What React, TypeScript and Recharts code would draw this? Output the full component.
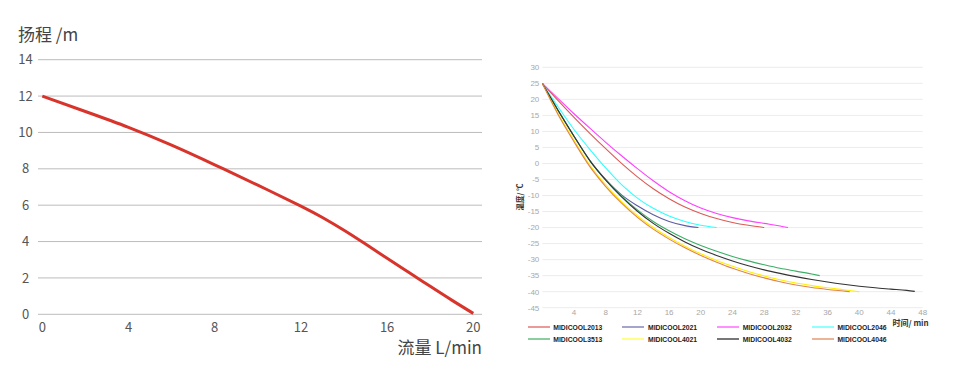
import React from 'react';
import { LineChart, Line, XAxis, YAxis, CartesianGrid } from 'recharts';

// ---------- Left chart: pump curve ----------
const flowTicks = [0, 4, 8, 12, 16, 20];
const headTicks = [0, 2, 4, 6, 8, 10, 12, 14];
const flow = [0, 2, 4, 6, 8, 10, 12, 13, 14, 15, 16, 17, 18, 19, 20];
const head = [12, 11.15, 10.28, 9.3, 8.22, 7.1, 5.95, 5.32, 4.62, 3.86, 3.08, 2.31, 1.54, 0.78, 0.05];

// ---------- Right chart: cooling curves ----------
const timeTicks = [4, 8, 12, 16, 20, 24, 28, 32, 36, 40, 44, 48];
const tempTicks = [-45, -40, -35, -30, -25, -20, -15, -10, -5, 0, 5, 10, 15, 20, 25, 30];

const seriesNames = ['MIDICOOL2013', 'MIDICOOL2021', 'MIDICOOL2032', 'MIDICOOL2046', 'MIDICOOL3513', 'MIDICOOL4021', 'MIDICOOL4032', 'MIDICOOL4046'];
const lineColors = ['#db5a55', '#5c5ca6', '#ff40ff', '#30ffff', '#3cae66', '#ffee00', '#333333', '#e0844e'];
const swatchColors = ['#eb9a98', '#a4a4cc', '#ff90ff', '#90ffff', '#8ccc9f', '#ffff88', '#777777', '#ebb494'];

const t2013 = [0, 2, 4, 6, 8, 10, 12, 14, 16, 18, 20, 22, 24, 26, 28];
const v2013 = [25, 19.6, 14.4, 9.4, 4.6, 0, -4.2, -7.9, -11, -13.6, -15.6, -17.2, -18.4, -19.3, -20];

const t2021 = [0, 2, 4, 6, 8, 10, 12, 14, 16, 18, 19.7];
const v2021 = [25, 16.5, 8.5, 0.9, -5.0, -9.8, -13.2, -16.0, -18.1, -19.4, -20];

const t2032 = [0, 2, 4, 6, 8, 10, 12, 14, 16, 18, 20, 22, 24, 26, 28, 30, 31];
const v2032 = [25, 20.2, 15.5, 11, 6.6, 2.4, -1.6, -5.4, -8.8, -11.6, -13.9, -15.6, -16.9, -17.9, -18.7, -19.5, -20];

const t2046 = [0, 2, 4, 6, 8, 10, 12, 14, 16, 18, 20, 22];
const v2046 = [25, 17.6, 10.6, 4.4, -1.4, -6.6, -10.8, -14.0, -16.4, -18.1, -19.3, -20];

const t3513 = [0, 2, 4, 6, 8, 10, 12, 14, 16, 18, 20, 22, 24, 26, 28, 30, 32, 34, 35];
const v3513 = [25, 16.5, 8.5, 0.9, -5.1, -10.2, -14.5, -18.1, -21.0, -23.5, -25.6, -27.4, -29.0, -30.4, -31.6, -32.7, -33.6, -34.5, -35];

const t4021 = [0, 2, 4, 6, 8, 10, 12, 14, 16, 18, 20, 22, 24, 26, 28, 30, 32, 34, 36, 38, 40];
const v4021 = [25, 15.6, 7.3, -0.5, -6.7, -11.9, -16.3, -20.0, -23.1, -25.8, -28.2, -30.3, -32.1, -33.7, -35.1, -36.3, -37.3, -38.1, -38.8, -39.4, -40];

const t4032 = [0, 2, 4, 6, 8, 10, 12, 14, 16, 18, 20, 22, 24, 26, 28, 30, 32, 34, 36, 38, 40, 42, 44, 46, 47];
const v4032 = [25, 16.5, 8.5, 0.9, -5.2, -10.4, -14.9, -18.7, -21.8, -24.5, -26.8, -28.7, -30.4, -31.9, -33.2, -34.3, -35.3, -36.2, -37.0, -37.7, -38.3, -38.8, -39.2, -39.6, -39.9];

const t4046 = [0, 2, 4, 6, 8, 10, 12, 14, 16, 18, 20, 22, 24, 26, 28, 30, 32, 34, 36, 38, 38.8];
const v4046 = [25, 15.2, 6.8, -1.0, -7.2, -12.4, -16.8, -20.5, -23.6, -26.3, -28.7, -30.8, -32.7, -34.3, -35.7, -36.9, -37.9, -38.7, -39.3, -39.8, -40];

const seriesTimes = [t2013, t2021, t2032, t2046, t3513, t4021, t4032, t4046];
const seriesTemps = [v2013, v2021, v2032, v2046, v3513, v4021, v4032, v4046];

const CJK = '"Noto Sans CJK SC", "Noto Sans", sans-serif';

const LeftYTick = (p: any) => (
  <text x={p.x} y={p.y} dy="0.36em" textAnchor="middle" fontSize={13} fill="#555" fontFamily={CJK}>
    {p.payload.value}
  </text>
);

function PumpChart() {
  const data = flow.map((f, i) => ({ f, h: head[i] }));
  return (
    <div style={{ position: 'absolute', left: 0, top: 0, width: 500, height: 374 }}>
      <LineChart width={500} height={374} data={data} margin={{ top: 59.7, right: 18, bottom: 29.7, left: 0 }}>
        <CartesianGrid vertical={false} stroke="#bcbcbc" strokeWidth={1} />
        <XAxis
          dataKey="f"
          type="number"
          domain={[0, 20]}
          ticks={flowTicks}
          padding={{ left: 4.3, right: 8.7 }}
          axisLine={false}
          tickLine={false}
          tickSize={0}
          tickMargin={8}
          height={30}
          tick={{ fontSize: 13, fill: '#555', fontFamily: CJK }}
          interval={0}
        />
        <YAxis
          type="number"
          domain={[0, 14]}
          ticks={headTicks}
          width={38}
          axisLine={false}
          tickLine={false}
          tickSize={0}
          tickMargin={12.5}
          tick={<LeftYTick />}
          interval={0}
        />
        <Line dataKey="h" type="natural" stroke="#d9342b" strokeWidth={3} dot={false} isAnimationActive={false} />
      </LineChart>
      <div style={{ position: 'absolute', left: 18, top: 24, fontSize: 17, lineHeight: '20px', color: '#444', fontFamily: CJK, whiteSpace: 'nowrap' }}>
        扬程 /m
      </div>
      <div style={{ position: 'absolute', right: 18, top: 337, fontSize: 17, lineHeight: '20px', color: '#444', fontFamily: CJK, whiteSpace: 'nowrap' }}>
        流量 L/min
      </div>
    </div>
  );
}

function CoolingChart() {
  const tick = { fontSize: 8, fill: '#a8a8a8', fontFamily: '"Liberation Sans", Arial, sans-serif' };
  return (
    <div style={{ position: 'absolute', left: 500, top: 0, width: 456, height: 374 }}>
      <LineChart width={456} height={374} margin={{ top: 67.3, right: 33.3, bottom: 46.3, left: 0 }}>
        <CartesianGrid vertical={false} stroke="#ececec" strokeWidth={1} />
        <XAxis
          dataKey="t"
          type="number"
          domain={[0, 48]}
          ticks={timeTicks}
          axisLine={false}
          tickLine={false}
          tickSize={0}
          tickMargin={2}
          height={20}
          tick={tick}
          interval={0}
          allowDuplicatedCategory={false}
        />
        <YAxis
          type="number"
          domain={[-45, 30]}
          ticks={tempTicks}
          width={42.3}
          axisLine={false}
          tickLine={false}
          tickSize={0}
          tickMargin={3}
          tick={tick}
          interval={0}
        />
        {seriesNames.map((name, i) => (
          <Line
            key={name}
            name={name}
            data={seriesTimes[i].map((t, j) => ({ t, v: seriesTemps[i][j] }))}
            dataKey="v"
            type="monotone"
            stroke={lineColors[i]}
            strokeWidth={1.1}
            dot={false}
            isAnimationActive={false}
          />
        ))}
      </LineChart>
      <div
        style={{
          position: 'absolute',
          left: 19,
          top: 197,
          transform: 'translate(-50%, -50%) rotate(-90deg)',
          fontSize: 7.5,
          fontWeight: 'bold',
          color: '#333',
          fontFamily: CJK,
          whiteSpace: 'nowrap',
        }}
      >
        温度/ ℃
      </div>
      <div style={{ position: 'absolute', left: 392.5, top: 317, fontSize: 8, lineHeight: '12px', fontWeight: 'bold', color: '#333', fontFamily: CJK, whiteSpace: 'nowrap' }}>
        时间/ min
      </div>
      {seriesNames.map((name, i) => {
        const col = i % 4;
        const row = Math.floor(i / 4);
        return (
          <div
            key={name}
            style={{
              position: 'absolute',
              left: 27.7 + col * 94.7,
              top: 321 + row * 12.3,
              height: 12,
              display: 'flex',
              alignItems: 'center',
              whiteSpace: 'nowrap',
            }}
          >
            <div style={{ width: 22, height: 2, background: swatchColors[i], marginRight: 3.6 }} />
            <span style={{ fontSize: 6.8, fontWeight: 'bold', color: '#222', fontFamily: '"Liberation Sans", Arial, sans-serif' }}>{name}</span>
          </div>
        );
      })}
    </div>
  );
}

export default function App() {
  return (
    <div style={{ position: 'absolute', left: 0, top: 0, width: 956, height: 374, background: '#fff', overflow: 'hidden' }}>
      <PumpChart />
      <CoolingChart />
    </div>
  );
}
